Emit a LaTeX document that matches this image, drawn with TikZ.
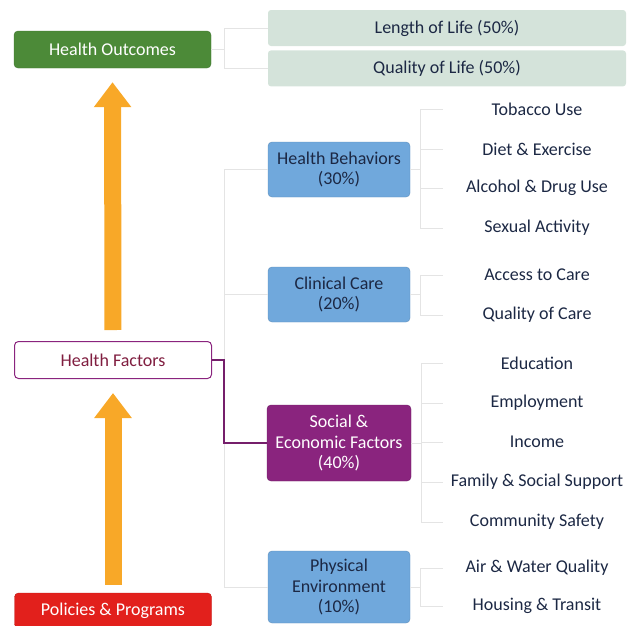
\documentclass[tikz,border=0pt]{standalone}
\usepackage{fontspec}
\setmainfont{Carlito}
\usetikzlibrary{positioning, arrows.meta, calc}
\definecolor{outgreen}{RGB}{76, 138, 56}
\definecolor{outpale}{RGB}{212, 227, 218}
\definecolor{factorpurple}{RGB}{138, 36, 126}
\definecolor{factortext}{RGB}{128, 30, 64}
\definecolor{behavblue}{RGB}{112, 168, 220}
\definecolor{policyred}{RGB}{226, 32, 28}
\definecolor{arroworange}{RGB}{248, 168, 40}
\definecolor{textnavy}{RGB}{28, 40, 68}
\definecolor{linkgray}{RGB}{228, 228, 228}
\newcommand{\labelfont}{\fontsize{18}{20.5}\selectfont}
\tikzset{
    % Node Styles
    block/.style={
        rectangle, rounded corners=4pt, text centered, align=center,
        font=\labelfont, inner sep=2pt
    },
    outcome/.style={block, fill=outgreen, draw=outgreen!85!black, text=white,
        minimum width=197pt, minimum height=37pt},
    result/.style={block, fill=outpale, text=textnavy, rounded corners=3pt,
        minimum width=358pt, minimum height=36pt},
    factor/.style={block, fill=white, draw=factorpurple, line width=1pt,
        text=factortext, minimum width=197pt, minimum height=37pt},
    policy/.style={block, fill=policyred, draw=policyred!85!black, text=white,
        minimum width=197pt, minimum height=35pt},
    category/.style={block, fill=behavblue, draw=behavblue!85!black, text=textnavy,
        minimum width=142pt, minimum height=55pt},
    social/.style={block, fill=factorpurple, draw=factorpurple!80!black, text=white,
        minimum width=144pt, minimum height=76pt},
    item/.style={font=\labelfont, text=textnavy, minimum width=184pt,
        inner sep=0pt, text centered},
    % Arrow Styles
    up_arrow/.style={-{Triangle[width=36pt, length=25pt]},
        line width=17pt, color=arroworange},
    link/.style={line width=0.8pt, color=linkgray},
    factor_link/.style={line width=1.2pt, color=factorpurple!85!black}
}
\begin{document}
\begin{tikzpicture}[x=1pt, y=-1pt]
    \useasboundingbox (0,0) rectangle (633,625);

    % --- 1. Outcomes ---
    \node [outcome] (ho) at (112.5,49.5) {Health Outcomes};
    \node [result] (len) at (447,28) {Length of Life (50\%)};
    \node [result, below=4pt of len] (qual) {Quality of Life (50\%)};
    \draw [link] (ho.east) -- ++(13,0) coordinate (ho_trunk);
    \draw [link] (ho_trunk) |- (len.west);
    \draw [link] (ho_trunk) |- (qual.west);

    % --- 2. Factors and Policies ---
    \node [factor] (hf) at (113,360) {Health Factors};
    \node [policy] (pp) at (113,610.5) {Policies \& Programs};

    \draw [up_arrow, shorten <=11pt, shorten >=14pt] (hf.north) -- (ho.south);
    \draw [up_arrow, shorten <=8pt, shorten >=14pt] (pp.north) -- (hf.south);

    % --- 3. Factor Categories ---
    \node [category] (hb) at (339,169.5) {Health Behaviors\\(30\%)};
    \node [category] (cc) at (339,294.5) {Clinical Care\\(20\%)};
    \node [social] (se) at (339,443) {Social \&\\Economic Factors\\(40\%)};
    \node [category, minimum height=72pt] (pe) at (339,587) {Physical\\Environment\\(10\%)};

    \draw [link] (hf.east) -- ++(12,0) coordinate (hf_trunk);
    \draw [link] (hf_trunk) |- (hb.west);
    \draw [link] (hf_trunk) |- (cc.west);
    \draw [link] (hf_trunk) |- (pe.west);
    \draw [factor_link] (hf.east) -| (hf_trunk) |- (se.west);

    % --- 4. Measures ---
    \node [item] (tob) at (537,109) {Tobacco Use};
    \node [item] (diet) at (537,149) {Diet \& Exercise};
    \node [item] (alc) at (537,188) {Alcohol \& Drug Use};
    \node [item] (sex) at (537,228) {Sexual Activity};
    \node [item] (acc) at (537,275) {Access to Care};
    \node [item] (qoc) at (537,315) {Quality of Care};
    \node [item] (edu) at (537,363) {Education};
    \node [item] (emp) at (537,403) {Employment};
    \node [item] (inc) at (537,442) {Income};
    \node [item] (fam) at (537,482) {Family \& Social Support};
    \node [item] (com) at (537,522) {Community Safety};
    \node [item] (air) at (537,568) {Air \& Water Quality};
    \node [item] (hou) at (537,606) {Housing \& Transit};

    \foreach \cat/\list in {hb/{tob,diet,alc,sex}, cc/{acc,qoc},
        se/{edu,emp,inc,fam,com}, pe/{air,hou}} {
        \foreach \it in \list {
            \draw [link] (\cat.east) -- ++(10,0) |- ([xshift=-2pt]\it.west);
        }
    }

\end{tikzpicture}
\end{document}
